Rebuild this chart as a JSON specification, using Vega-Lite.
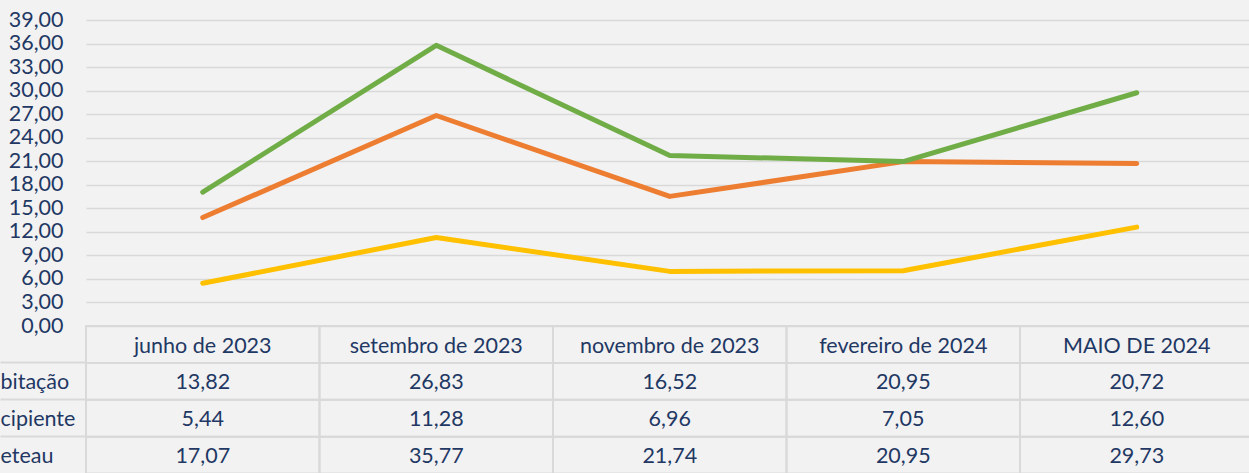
{
  "$schema": "https://vega.github.io/schema/vega-lite/v6.json",
  "autosize": {"type": "none"},
  "width": 1163,
  "height": 453,
  "padding": {"left": 86, "top": 20, "right": 0, "bottom": 0},
  "background": "#F2F2F2",
  "config": {
    "view": {"stroke": null},
    "locale": {"number": {"decimal": ",", "thousands": ".", "grouping": [3], "currency": ["R$", ""]}},
    "font": "Lato",
    "text": {"font": "Lato"}
  },
  "datasets": {
    "meses": [
      {"mes": "junho de 2023"},
      {"mes": "setembro de 2023"},
      {"mes": "novembro de 2023"},
      {"mes": "fevereiro de 2024"},
      {"mes": "MAIO DE 2024"}
    ],
    "valores": [
      {"mes": "junho de 2023", "serie": "bitação", "valor": 13.82},
      {"mes": "setembro de 2023", "serie": "bitação", "valor": 26.83},
      {"mes": "novembro de 2023", "serie": "bitação", "valor": 16.52},
      {"mes": "fevereiro de 2024", "serie": "bitação", "valor": 20.95},
      {"mes": "MAIO DE 2024", "serie": "bitação", "valor": 20.72},
      {"mes": "junho de 2023", "serie": "cipiente", "valor": 5.44},
      {"mes": "setembro de 2023", "serie": "cipiente", "valor": 11.28},
      {"mes": "novembro de 2023", "serie": "cipiente", "valor": 6.96},
      {"mes": "fevereiro de 2024", "serie": "cipiente", "valor": 7.05},
      {"mes": "MAIO DE 2024", "serie": "cipiente", "valor": 12.60},
      {"mes": "junho de 2023", "serie": "eteau", "valor": 17.07},
      {"mes": "setembro de 2023", "serie": "eteau", "valor": 35.77},
      {"mes": "novembro de 2023", "serie": "eteau", "valor": 21.74},
      {"mes": "fevereiro de 2024", "serie": "eteau", "valor": 20.95},
      {"mes": "MAIO DE 2024", "serie": "eteau", "valor": 29.73}
    ]
  },
  "encoding": {
    "x": {
      "field": "mes",
      "type": "nominal",
      "sort": null,
      "scale": {"type": "band", "domain": ["junho de 2023", "setembro de 2023", "novembro de 2023", "fevereiro de 2024", "MAIO DE 2024"], "range": [0, 1167.5], "paddingInner": 0, "paddingOuter": 0},
      "axis": null
    }
  },
  "layer": [
    {
      "layer": [
        {
          "data": {"name": "valores"},
          "mark": {"type": "rect", "fill": null, "fillOpacity": 0, "stroke": "#D9D9D9", "strokeWidth": 2},
          "encoding": {
            "y": {
              "field": "serie",
              "type": "nominal",
              "scale": {"type": "band", "domain": ["header", "bitação", "cipiente", "eteau"], "range": [306, 453.6], "paddingInner": 0, "paddingOuter": 0},
              "axis": {
                "orient": "left",
                "title": null,
                "domain": false,
                "grid": false,
                "ticks": true,
                "bandPosition": 0,
                "tickSize": 86,
                "tickColor": "#D9D9D9",
                "tickWidth": 2,
                "tickOpacity": {"condition": {"test": "datum.value === 'header'", "value": 0}, "value": 1},
                "labelExpr": "datum.value === 'header' ? '' : datum.label",
                "labelAlign": "left",
                "labelBaseline": "middle",
                "labelPadding": 0,
                "labelOffset": 2,
                "labelFont": "Lato",
                "labelFontSize": 21.5,
                "labelColor": "#1F3864",
                "labelOverlap": false,
                "labelBound": false,
                "labelFlush": false,
                "labelLimit": 0
              }
            }
          }
        },
        {
          "data": {"name": "meses"},
          "mark": {"type": "rect", "fill": null, "fillOpacity": 0, "stroke": "#D9D9D9", "strokeWidth": 2},
          "encoding": {
            "y": {"datum": "header", "type": "nominal"}
          }
        },
        {
          "data": {"name": "meses"},
          "mark": {"type": "text", "font": "Lato", "fontSize": 21.5, "color": "#1F3864", "baseline": "middle", "dy": 3},
          "encoding": {
            "y": {"datum": "header", "type": "nominal"},
            "text": {"field": "mes", "type": "nominal"}
          }
        },
        {
          "data": {"name": "valores"},
          "mark": {"type": "text", "font": "Lato", "fontSize": 21.5, "color": "#1F3864", "baseline": "middle", "dy": 2},
          "encoding": {
            "y": {"field": "serie", "type": "nominal"},
            "text": {"field": "valor", "type": "quantitative", "format": ".2f"}
          }
        }
      ]
    },
    {
      "data": {"name": "valores"},
      "mark": {"type": "line", "strokeWidth": 5, "strokeCap": "round", "strokeJoin": "round"},
      "encoding": {
        "x": {"field": "mes", "type": "nominal", "sort": null, "bandPosition": 0.5},
        "y": {
          "field": "valor",
          "type": "quantitative",
          "scale": {"domain": [0, 39], "range": [306, 0], "nice": false, "zero": false},
          "axis": {
            "orient": "left",
            "title": null,
            "values": [0, 3, 6, 9, 12, 15, 18, 21, 24, 27, 30, 33, 36, 39],
            "format": ".2f",
            "domain": false,
            "ticks": false,
            "grid": true,
            "gridColor": "#D9D9D9",
            "gridWidth": 1.5,
            "labelPadding": 23,
            "labelFont": "Lato",
            "labelFontSize": 21.5,
            "labelColor": "#1F3864",
            "labelOverlap": false,
            "labelBound": false
          }
        },
        "color": {
          "field": "serie",
          "type": "nominal",
          "scale": {"domain": ["bitação", "cipiente", "eteau"], "range": ["#ED7D31", "#FFC000", "#70AD47"]},
          "legend": null
        }
      }
    }
  ],
  "resolve": {"scale": {"y": "independent"}, "axis": {"y": "independent"}}
}
